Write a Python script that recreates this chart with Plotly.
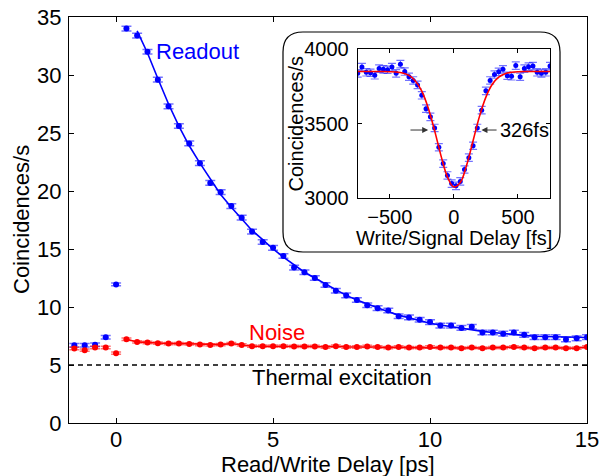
import plotly.graph_objects as go

# ---------------- main panel data ----------------
delay_ps = [-1.33, -1.0, -0.67, -0.33, 0.0, 0.33, 0.67, 1.0, 1.33, 1.67,
            2.0, 2.33, 2.67, 3.0, 3.33, 3.67, 4.0, 4.33, 4.67, 5.0,
            5.33, 5.67, 6.0, 6.33, 6.67, 7.0, 7.33, 7.67, 8.0, 8.33,
            8.67, 9.0, 9.33, 9.67, 10.0, 10.33, 10.67, 11.0, 11.33, 11.67,
            12.0, 12.33, 12.67, 13.0, 13.33, 13.67, 14.0, 14.33, 14.67, 15.0]

readout = [6.7, 6.7, 6.75, 7.4, 11.95, 34.0, 33.4, 32.0, 29.6, 27.3,
           25.6, 24.1, 22.4, 20.7, 19.9, 18.7, 17.7, 16.5, 15.6, 15.1,
           14.4, 13.4, 13.0, 12.5, 11.9, 11.4, 11.0, 10.6, 10.15, 9.9,
           9.7, 9.2, 9.1, 8.9, 8.7, 8.4, 8.4, 8.2, 8.3, 7.8,
           7.8, 7.7, 7.8, 7.6, 7.4, 7.4, 7.4, 7.2, 7.3, 7.4]
readout_err = [0.15, 0.15, 0.15, 0.15, 0.12, 0.2, 0.2, 0.2, 0.2, 0.2,
               0.2, 0.2, 0.2, 0.2, 0.2, 0.2, 0.2, 0.2, 0.2, 0.2,
               0.2, 0.2, 0.2, 0.2, 0.2, 0.2, 0.2, 0.2, 0.2, 0.2,
               0.2, 0.2, 0.2, 0.2, 0.2, 0.2, 0.2, 0.2, 0.2, 0.2,
               0.2, 0.2, 0.2, 0.2, 0.2, 0.2, 0.2, 0.2, 0.2, 0.2]
# fitted decay curve (from 0.67 ps on)
readout_fit = [33.8, 31.9, 29.7, 27.5, 25.6, 23.9, 22.4, 21.0, 19.7, 18.6,
               17.6, 16.6, 15.8, 15.0, 14.3, 13.6, 13.0, 12.5, 12.0, 11.5,
               11.0, 10.6, 10.25, 9.9, 9.6, 9.3, 9.05, 8.8, 8.6, 8.45,
               8.3, 8.15, 8.02, 7.9, 7.8, 7.7, 7.62, 7.55, 7.48, 7.45,
               7.42, 7.4, 7.38, 7.37]

noise = [6.42, 6.28, 6.51, 6.51, 6.02, 7.22, 6.99, 6.94, 6.88, 6.85,
         6.85, 6.82, 6.76, 6.73, 6.76, 6.85, 6.73, 6.62, 6.62, 6.62,
         6.62, 6.6, 6.6, 6.6, 6.55, 6.62, 6.55, 6.55, 6.6, 6.55,
         6.5, 6.55, 6.5, 6.5, 6.55, 6.5, 6.5, 6.45, 6.5, 6.45,
         6.5, 6.5, 6.55, 6.5, 6.45, 6.5, 6.5, 6.45, 6.45, 6.56]
noise_err = [0.1, 0.1, 0.1, 0.1, 0.1, 0.1, 0.1, 0.1, 0.1, 0.1,
             0.1, 0.1, 0.1, 0.1, 0.1, 0.1, 0.1, 0.1, 0.1, 0.1,
             0.1, 0.1, 0.1, 0.1, 0.1, 0.1, 0.1, 0.1, 0.1, 0.1,
             0.1, 0.1, 0.1, 0.1, 0.1, 0.1, 0.1, 0.1, 0.1, 0.1,
             0.1, 0.1, 0.1, 0.1, 0.1, 0.1, 0.1, 0.1, 0.1, 0.1]

thermal_x = [-1.5, 15]
thermal_level = [5, 5]

x_ticks = [0, 5, 10, 15]
y_ticks = [0, 5, 10, 15, 20, 25, 30, 35]

# ---------------- inset data ----------------
inset_delay_fs = [-750, -717, -683, -650, -617, -583, -550, -517, -483, -450,
                  -417, -383, -350, -317, -283, -250, -217, -183, -150, -117,
                  -83, -50, -17, 17, 50, 83, 117, 150, 183, 217,
                  250, 283, 317, 350, 383, 417, 450, 483, 517, 550,
                  583, 617, 650, 683, 717, 750]
inset_counts = [3838, 3880, 3845, 3842, 3825, 3870, 3865, 3862, 3880, 3838,
                3900, 3850, 3815, 3790, 3760, 3690, 3600, 3545, 3470, 3340,
                3230, 3150, 3095, 3080, 3110, 3190, 3270, 3350, 3470, 3590,
                3720, 3790, 3830, 3848, 3865, 3822, 3818, 3890, 3815, 3870,
                3883, 3887, 3845, 3838, 3845, 3887]
inset_err = [25] * 46

inset_fit_fs = [-750, -700, -650, -600, -550, -500, -450, -400, -350, -300,
                -250, -200, -150, -100, -50, 0, 50, 100, 150, 200,
                250, 300, 350, 400, 450, 500, 550, 600, 650, 700, 750]
inset_fit = [3850, 3850, 3850, 3850, 3850, 3849, 3847, 3841, 3824, 3787,
             3718, 3605, 3452, 3282, 3140, 3072, 3102, 3220, 3384, 3548,
             3678, 3764, 3812, 3836, 3845, 3849, 3850, 3850, 3850, 3850, 3850]

inset_x_ticks = [-500, 0, 500]
inset_y_ticks = [3000, 3500, 4000]

FONT = "Liberation Sans, Arial, sans-serif"
BLUE = "#0000ff"
RED = "#ff0000"

fig = go.Figure()

# main panel traces
fig.add_trace(go.Scatter(x=thermal_x, y=thermal_level, mode="lines",
                         line=dict(color="black", width=1.5, dash="5px,4px"),
                         hoverinfo="skip"))
fig.add_trace(go.Scatter(x=delay_ps[6:], y=readout_fit, mode="lines",
                         line=dict(color=BLUE, width=1.6)))
fig.add_trace(go.Scatter(x=delay_ps, y=readout, mode="markers",
                         marker=dict(color=BLUE, size=6),
                         error_y=dict(type="data", array=readout_err,
                                      color="rgba(0,0,255,0.55)", thickness=1.5, width=5)))
fig.add_trace(go.Scatter(x=delay_ps[5:], y=noise[5:], mode="lines",
                         line=dict(color=RED, width=1.6)))
fig.add_trace(go.Scatter(x=delay_ps, y=noise, mode="markers",
                         marker=dict(color=RED, size=6),
                         error_y=dict(type="data", array=noise_err,
                                      color="rgba(255,0,0,0.55)", thickness=1.5, width=5)))

# inset traces
fig.add_trace(go.Scatter(x=inset_delay_fs, y=inset_counts, mode="markers",
                         marker=dict(color=BLUE, size=5),
                         error_y=dict(type="data", array=inset_err,
                                      color="rgba(0,0,255,0.55)", thickness=1.2, width=4),
                         xaxis="x2", yaxis="y2"))
fig.add_trace(go.Scatter(x=inset_fit_fs, y=inset_fit, mode="lines",
                         line=dict(color=RED, width=1.6, shape="spline"),
                         xaxis="x2", yaxis="y2"))

# geometry helpers: reference pixel -> paper
L, R, T, B = 69, 587, 17, 423
W, H = 603, 476
def px(x):
    return (x - L) / (R - L)
def py(y):
    return (B - y) / (B - T)

axis_common = dict(showgrid=False, zeroline=False, showline=True, linecolor="black",
                   linewidth=1, mirror="ticks", ticks="inside", tickcolor="black",
                   color="black", ticklabeloverflow="allow")

fig.update_layout(
    width=W, height=H,
    margin=dict(l=L, r=W - R, t=T, b=H - B, autoexpand=False),
    paper_bgcolor="white", plot_bgcolor="white",
    showlegend=False,
    font=dict(family=FONT, size=22, color="black"),
    xaxis=dict(range=[-1.5, 15], tickvals=x_ticks, ticklen=5,
               tickfont=dict(family=FONT, size=22), ticklabelstandoff=-3, **axis_common),
    yaxis=dict(range=[0, 35], tickvals=y_ticks, ticklen=5,
               tickfont=dict(family=FONT, size=22), ticklabelstandoff=2, **axis_common),
    xaxis2=dict(domain=[px(357.7), px(550)], anchor="y2", range=[-750, 750],
                tickvals=inset_x_ticks, ticklen=4,
                tickfont=dict(family=FONT, size=20), ticklabelstandoff=1, **axis_common),
    yaxis2=dict(domain=[py(197.7), py(49.3)], anchor="x2", range=[3000, 4000],
                tickvals=inset_y_ticks, ticklen=4,
                tickfont=dict(family=FONT, size=20), ticklabelstandoff=4, **axis_common),
)

# rounded inset box
x0, x1 = px(283), px(560)
y0, y1 = py(252), py(32)
rx, ry = 20 / (R - L), 20 / (B - T)
path = (f"M {x0+rx},{y1} L {x1-rx},{y1} Q {x1},{y1} {x1},{y1-ry} "
        f"L {x1},{y0+ry} Q {x1},{y0} {x1-rx},{y0} L {x0+rx},{y0} "
        f"Q {x0},{y0} {x0},{y0+ry} L {x0},{y1-ry} Q {x0},{y1} {x0+rx},{y1} Z")
fig.add_shape(type="path", path=path, xref="paper", yref="paper",
              line=dict(color="black", width=1.2), fillcolor="white", layer="below")

ann = []
ann.append(dict(x=1.21, y=32.0, xref="x", yref="y", text="Readout", showarrow=False,
                xanchor="left", yanchor="middle", font=dict(color=BLUE, size=22, family=FONT)))
ann.append(dict(x=4.18, y=7.84, xref="x", yref="y", text="Noise", showarrow=False,
                xanchor="left", yanchor="middle", font=dict(color=RED, size=22, family=FONT)))
ann.append(dict(x=4.26, y=3.88, xref="x", yref="y", text="Thermal excitation", showarrow=False,
                xanchor="left", yanchor="middle", font=dict(color="black", size=22, family=FONT)))
ann.append(dict(x=0.5, y=py(464), xref="paper", yref="paper", text="Read/Write Delay [ps]",
                showarrow=False, xanchor="center", yanchor="middle",
                font=dict(size=22, family=FONT)))
ann.append(dict(x=px(21), y=0.5, xref="paper", yref="paper", text="Coincidences/s",
                showarrow=False, textangle=-90, xanchor="center", yanchor="middle",
                font=dict(size=22, family=FONT)))
ann.append(dict(x=px(453.9), y=py(238), xref="paper", yref="paper",
                text="Write/Signal Delay [fs]", showarrow=False,
                xanchor="center", yanchor="middle", font=dict(size=20, family=FONT)))
ann.append(dict(x=px(295), y=py(123.5), xref="paper", yref="paper",
                text="Coincidences/s", showarrow=False, textangle=-90,
                xanchor="center", yanchor="middle", font=dict(size=20, family=FONT)))
ann.append(dict(x=-200, y=3456, xref="x2", yref="y2", ax=-350, ay=3456,
                axref="x2", ayref="y2", text="", showarrow=True,
                arrowhead=2, arrowsize=1.2, arrowwidth=1, arrowcolor="#333333"))
ann.append(dict(x=215, y=3456, xref="x2", yref="y2", ax=345, ay=3456,
                axref="x2", ayref="y2", text="", showarrow=True,
                arrowhead=2, arrowsize=1.2, arrowwidth=1, arrowcolor="#333333"))
ann.append(dict(x=342, y=3456, xref="x2", yref="y2", text="326fs", showarrow=False,
                xanchor="left", yanchor="middle", font=dict(size=20, family=FONT)))
fig.update_layout(annotations=ann)

fig.write_html("out.html", config={"displayModeBar": False},
               post_script="document.body.style.margin='0px';document.body.style.overflow='hidden';")
